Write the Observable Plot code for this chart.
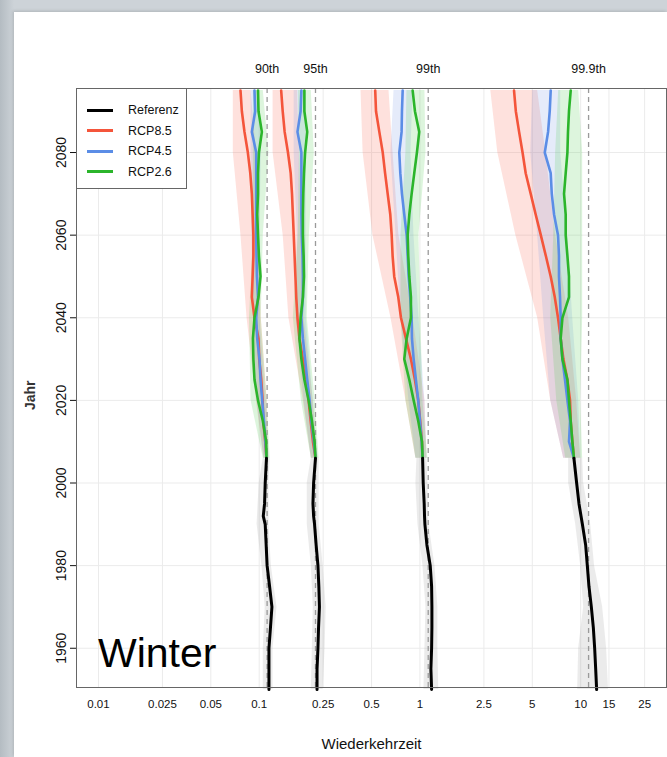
<!DOCTYPE html>
<html><head><meta charset="utf-8">
<script src="https://cdn.jsdelivr.net/npm/d3@7"></script>
<script src="https://cdn.jsdelivr.net/npm/@observablehq/plot@0.6"></script>
<style>
html,body{margin:0;padding:0;}
body{width:667px;height:757px;position:relative;overflow:hidden;background:linear-gradient(90deg,#b4bcc2 0px,#cdd3d8 14px);font-family:"Liberation Sans",Arial,sans-serif;}
#panel{position:absolute;left:14px;top:12px;right:0;bottom:0;background:#fff;box-shadow:-1px -1px 3px rgba(0,0,0,0.15);}
#chart{position:absolute;left:14px;top:12px;}
#legend{position:absolute;left:76px;top:88px;width:111px;height:101px;box-sizing:border-box;border:1px solid #666;background:#fff;}
.row{position:absolute;left:0;height:20px;display:flex;align-items:center;font-family:"Liberation Sans",Arial,sans-serif;font-size:12.5px;color:#111;}
.sw{display:inline-block;width:26px;height:3px;margin-left:10px;margin-right:15px;}
#season{position:absolute;left:98px;top:633px;font-size:41px;line-height:1;color:#000;font-family:"Liberation Sans",Arial,sans-serif;}
</style></head>
<body>
<div id="panel"></div>
<div id="chart"></div>
<div id="legend"></div>
<div id="season">Winter</div>
<script>
// ---- categories / ticks ----
const groups = ["90th", "95th", "99th", "99.9th"];
const seriesNames = ["Referenz", "RCP8.5", "RCP4.5", "RCP2.6"];
const refMean = [0.112, 0.224, 1.126, 11.2];
const xTicks = [0.01, 0.025, 0.05, 0.1, 0.25, 0.5, 1, 2.5, 5, 10, 15, 25];
const xTickLabels = ["0.01", "0.025", "0.05", "0.1", "0.25", "0.5", "1", "2.5", "5", "10", "15", "25"];
const yTicks = [1960, 1980, 2000, 2020, 2040, 2060, 2080];

// ---- years ----
const yearsRef = [1950, 1955, 1960, 1965, 1970, 1975, 1980, 1985, 1990, 1992, 1995, 2000, 2006];
const yearsFut = [2006, 2010, 2015, 2020, 2025, 2030, 2035, 2040, 2045, 2050, 2055, 2060, 2065, 2070, 2075, 2080, 2085, 2090, 2095];
const bandYearsRef = [1950, 1960, 1970, 1980, 1990, 2000, 2006];
const bandYearsFut = [2006, 2020, 2040, 2060, 2080, 2095];

// ---- Referenz (1950-2006) ----
const ref90  = [0.115, 0.115, 0.115, 0.1175, 0.120, 0.116, 0.112, 0.1105, 0.109, 0.106, 0.108, 0.109, 0.111];
const ref95  = [0.229, 0.229, 0.232, 0.234, 0.237, 0.235, 0.232, 0.226, 0.221, 0.218, 0.216, 0.218, 0.224];
const ref99  = [1.182, 1.170, 1.182, 1.187, 1.187, 1.182, 1.159, 1.105, 1.074, 1.068, 1.063, 1.048, 1.039];
const ref999 = [12.57, 12.40, 12.22, 11.99, 11.65, 11.26, 11.0, 10.74, 10.25, 10.05, 9.76, 9.44, 9.08];

// ---- RCP8.5 ----
const rcp85_90  = [0.111, 0.109, 0.106, 0.105, 0.103, 0.100, 0.099, 0.0935, 0.090, 0.091, 0.092, 0.092, 0.091, 0.090, 0.088, 0.085, 0.081, 0.078, 0.0765];
const rcp85_95  = [0.224, 0.216, 0.209, 0.203, 0.196, 0.187, 0.178, 0.173, 0.170, 0.168, 0.166, 0.164, 0.162, 0.160, 0.157, 0.151, 0.144, 0.140, 0.137];
const rcp85_99  = [1.039, 1.029, 1.004, 0.976, 0.931, 0.879, 0.818, 0.762, 0.733, 0.692, 0.676, 0.667, 0.654, 0.630, 0.607, 0.587, 0.559, 0.533, 0.527];
const rcp85_999 = [9.08, 8.88, 8.67, 8.59, 8.27, 7.81, 7.51, 7.23, 6.90, 6.51, 6.07, 5.65, 5.25, 4.89, 4.55, 4.35, 4.14, 3.95, 3.85];

// ---- RCP4.5 ----
const rcp45_90  = [0.111, 0.1094, 0.107, 0.1044, 0.1019, 0.1004, 0.0972, 0.0958, 0.0983, 0.0968, 0.0962, 0.0958, 0.0958, 0.0958, 0.0958, 0.0958, 0.090, 0.0944, 0.0935];
const rcp45_95  = [0.224, 0.219, 0.211, 0.206, 0.199, 0.193, 0.187, 0.183, 0.187, 0.187, 0.186, 0.184, 0.183, 0.183, 0.183, 0.183, 0.173, 0.181, 0.183];
const rcp45_99  = [1.039, 1.025, 1.0, 0.976, 0.944, 0.914, 0.892, 0.888, 0.870, 0.851, 0.839, 0.827, 0.799, 0.773, 0.755, 0.744, 0.769, 0.773, 0.781];
const rcp45_999 = [9.08, 8.46, 8.59, 8.27, 7.99, 7.70, 7.51, 7.51, 7.44, 7.33, 7.33, 7.23, 6.83, 6.61, 6.51, 5.98, 6.27, 6.42, 6.51];

// ---- RCP2.6 ----
const rcp26_90  = [0.111, 0.1105, 0.1054, 0.0983, 0.0935, 0.092, 0.0914, 0.0935, 0.099, 0.1019, 0.0996, 0.0983, 0.0972, 0.0983, 0.0983, 0.0996, 0.1039, 0.099, 0.0983];
const rcp26_95  = [0.224, 0.221, 0.213, 0.203, 0.191, 0.183, 0.178, 0.181, 0.187, 0.190, 0.189, 0.187, 0.187, 0.188, 0.190, 0.193, 0.199, 0.191, 0.191];
const rcp26_99  = [1.039, 1.03, 0.976, 0.914, 0.859, 0.799, 0.827, 0.879, 0.879, 0.859, 0.846, 0.839, 0.859, 0.888, 0.922, 0.958, 0.99, 0.931, 0.901];
const rcp26_999 = [9.08, 8.88, 8.67, 8.46, 8.27, 7.70, 7.51, 7.70, 8.46, 8.46, 8.27, 8.07, 8.07, 7.88, 8.07, 8.27, 8.34, 8.46, 8.67];

// ---- uncertainty bands (low / high) ----
const refLo90  = [0.106, 0.106, 0.109, 0.104, 0.097, 0.100, 0.106];
const refHi90  = [0.122, 0.122, 0.129, 0.119, 0.115, 0.115, 0.117];
const refLo95  = [0.211, 0.214, 0.217, 0.211, 0.199, 0.199, 0.211];
const refHi95  = [0.250, 0.257, 0.261, 0.250, 0.236, 0.236, 0.236];
const refLo99  = [1.059, 1.074, 1.09, 1.044, 0.972, 0.944, 0.958];
const refHi99  = [1.31, 1.293, 1.293, 1.24, 1.137, 1.121, 1.105];
const refLo999 = [9.58, 9.72, 10.44, 10.0, 9.31, 8.42, 8.42];
const refHi999 = [14.9, 14.5, 13.7, 12.2, 11.54, 10.44, 10.29];

const rcp85Lo90  = [0.107, 0.096, 0.084, 0.077, 0.069, 0.069];
const rcp85Hi90  = [0.115, 0.112, 0.103, 0.100, 0.096, 0.089];
const rcp85Lo95  = [0.211, 0.188, 0.153, 0.141, 0.122, 0.122];
const rcp85Hi95  = [0.232, 0.217, 0.190, 0.183, 0.178, 0.173];
const rcp85Lo99  = [0.944, 0.818, 0.660, 0.510, 0.443, 0.430];
const rcp85Hi99  = [1.105, 1.074, 0.905, 0.740, 0.680, 0.642];
const rcp85Lo999 = [7.84, 6.51, 5.40, 3.95, 3.05, 2.76];
const rcp85Hi999 = [10.0, 9.44, 8.42, 6.99, 6.07, 5.40];

const rcp45Lo90  = [0.107, 0.097, 0.092, 0.090, 0.089, 0.089];
const rcp45Hi90  = [0.115, 0.110, 0.101, 0.101, 0.103, 0.100];
const rcp45Lo95  = [0.211, 0.190, 0.170, 0.173, 0.165, 0.165];
const rcp45Hi95  = [0.232, 0.217, 0.196, 0.196, 0.196, 0.196];
const rcp45Lo99  = [0.944, 0.854, 0.762, 0.710, 0.660, 0.690];
const rcp45Hi99  = [1.105, 1.074, 0.986, 0.918, 0.879, 0.905];
const rcp45Lo999 = [7.84, 6.51, 5.89, 5.40, 4.89, 5.03];
const rcp45Hi999 = [10.0, 9.72, 8.92, 8.30, 7.51, 7.51];

const rcp26Lo90  = [0.106, 0.089, 0.087, 0.092, 0.092, 0.092];
const rcp26Hi90  = [0.117, 0.112, 0.103, 0.106, 0.115, 0.106];
const rcp26Lo95  = [0.211, 0.183, 0.163, 0.175, 0.178, 0.175];
const rcp26Hi95  = [0.236, 0.223, 0.199, 0.205, 0.220, 0.211];
const rcp26Lo99  = [0.944, 0.818, 0.762, 0.762, 0.818, 0.830];
const rcp26Hi99  = [1.121, 1.044, 1.014, 0.986, 1.09, 1.074];
const rcp26Lo999 = [8.07, 7.10, 6.51, 6.80, 6.99, 7.30];
const rcp26Hi999 = [10.29, 10.0, 10.29, 10.29, 10.29, 9.72];

// ---- styles ----
const lineColors = {"Referenz": "#000000", "RCP8.5": "#f4553b", "RCP4.5": "#5b8de6", "RCP2.6": "#2bb52b"};
const bandColors = {"Referenz": "#9a9a9a", "RCP8.5": "#f86a55", "RCP4.5": "#7c9be8", "RCP2.6": "#55cc55"};

// ---- build tables ----
function lineRows(years, arrays) {
  return arrays.flatMap((arr, gi) => arr.map((v, i) => ({year: years[i], value: v, group: groups[gi]})));
}
function bandRows(years, los, his) {
  return los.flatMap((lo, gi) => lo.map((v, i) => ({year: years[i], lo: v, hi: his[gi][i], group: groups[gi]})));
}
const lines = {
  "Referenz": lineRows(yearsRef, [ref90, ref95, ref99, ref999]),
  "RCP8.5": lineRows(yearsFut, [rcp85_90, rcp85_95, rcp85_99, rcp85_999]),
  "RCP4.5": lineRows(yearsFut, [rcp45_90, rcp45_95, rcp45_99, rcp45_999]),
  "RCP2.6": lineRows(yearsFut, [rcp26_90, rcp26_95, rcp26_99, rcp26_999])
};
const bands = {
  "Referenz": bandRows(bandYearsRef, [refLo90, refLo95, refLo99, refLo999], [refHi90, refHi95, refHi99, refHi999]),
  "RCP8.5": bandRows(bandYearsFut, [rcp85Lo90, rcp85Lo95, rcp85Lo99, rcp85Lo999], [rcp85Hi90, rcp85Hi95, rcp85Hi99, rcp85Hi999]),
  "RCP4.5": bandRows(bandYearsFut, [rcp45Lo90, rcp45Lo95, rcp45Lo99, rcp45Lo999], [rcp45Hi90, rcp45Hi95, rcp45Hi99, rcp45Hi999]),
  "RCP2.6": bandRows(bandYearsFut, [rcp26Lo90, rcp26Lo95, rcp26Lo99, rcp26Lo999], [rcp26Hi90, rcp26Hi95, rcp26Hi99, rcp26Hi999])
};

const bandOrder = ["Referenz", "RCP8.5", "RCP4.5", "RCP2.6"];
const lineOrder = ["RCP8.5", "RCP4.5", "RCP2.6", "Referenz"];

const chart = Plot.plot({
  width: 653,
  height: 745,
  marginLeft: 62,
  marginTop: 76,
  marginRight: 1,
  marginBottom: 70,
  style: {fontFamily: "'Liberation Sans',Arial,sans-serif", fontSize: "12px", background: "transparent", color: "#111", overflow: "visible"},
  x: {type: "log", domain: [0.0073, 34.2], axis: null},
  y: {domain: [1950.5, 2095.5]},
  marks: [
    Plot.gridX(xTicks, {stroke: "#ebebeb", strokeOpacity: 1}),
    Plot.gridY(yTicks, {stroke: "#ebebeb", strokeOpacity: 1}),
    ...bandOrder.map(s => Plot.areaX(bands[s], {y: "year", x1: "lo", x2: "hi", z: "group", fill: bandColors[s], fillOpacity: 0.2})),
    Plot.ruleX(refMean, {stroke: "#9a9a9a", strokeWidth: 1.3, strokeDasharray: "5,4"}),
    ...lineOrder.map(s => Plot.line(lines[s], {x: "value", y: "year", z: "group", stroke: lineColors[s], strokeWidth: s === "Referenz" ? 3 : 2.6})),
    Plot.text(groups, {x: refMean, text: d => d, frameAnchor: "top", dy: -24, fontSize: 12.5}),
    Plot.frame({stroke: "#666"}),
    Plot.text(xTicks, {x: d => d, text: (d, i) => xTickLabels[i], frameAnchor: "bottom", dy: 20, fontSize: 11.5}),
    Plot.axisY({ticks: yTicks, tickFormat: d => String(d), tickRotate: -90, tickSize: 6, tickPadding: 5, label: null, fontSize: 14}),
    Plot.text(["Wiederkehrzeit"], {frameAnchor: "bottom", dy: 61, text: d => d, fontSize: 15}),
    Plot.text(["Jahr"], {frameAnchor: "left", dx: -46, dy: 22, rotate: -90, text: d => d, fontSize: 14, fontWeight: "bold", fill: "#333"})
  ]
});
document.getElementById("chart").appendChild(chart);

// ---- legend ----
const legend = document.getElementById("legend");
seriesNames.forEach((s, i) => {
  const row = document.createElement("div");
  row.className = "row";
  row.style.top = (11 + i * 20.5) + "px";
  const sw = document.createElement("span");
  sw.className = "sw";
  sw.style.background = lineColors[s];
  row.appendChild(sw);
  row.appendChild(document.createTextNode(s));
  legend.appendChild(row);
});
</script>
</body></html>
